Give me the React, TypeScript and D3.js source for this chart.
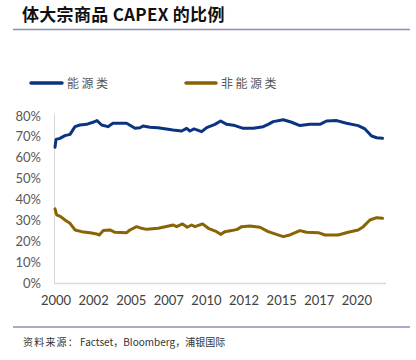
import React from "react";
import * as d3 from "d3";

const energyYears = [2000.0, 2000.07, 2000.33, 2000.66, 2001.0, 2001.33, 2001.66, 2002.1, 2002.52, 2002.79, 2003.1, 2003.52, 2003.85, 2004.76, 2005.32, 2005.65, 2005.85, 2006.31, 2006.84, 2007.84, 2008.42, 2008.75, 2008.97, 2009.24, 2009.75, 2010.08, 2010.63, 2011.01, 2011.41, 2011.96, 2012.51, 2013.18, 2013.84, 2014.17, 2014.5, 2015.17, 2015.73, 2016.28, 2016.94, 2017.61, 2018.05, 2018.72, 2019.38, 2020.15, 2020.6, 2021.04, 2021.38, 2021.77];
const energyValues = [65.0, 68.8, 69.3, 70.6, 71.2, 74.9, 75.7, 76.0, 77.0, 77.8, 75.7, 74.9, 76.5, 76.5, 74.1, 74.4, 75.2, 74.6, 74.4, 73.3, 72.8, 74.1, 72.8, 73.8, 72.5, 74.4, 76.0, 77.6, 76.0, 75.4, 74.1, 74.1, 74.9, 76.0, 77.3, 78.2, 77.0, 75.4, 76.0, 76.0, 77.6, 77.8, 76.5, 75.4, 73.8, 70.4, 69.6, 69.3];

const nonEnergyYears = [2000.0, 2000.11, 2000.38, 2000.73, 2001.0, 2001.33, 2001.77, 2002.33, 2002.77, 2002.94, 2003.21, 2003.65, 2003.99, 2004.76, 2004.98, 2005.43, 2005.76, 2006.09, 2006.86, 2007.86, 2008.08, 2008.48, 2008.79, 2009.08, 2009.3, 2009.81, 2010.19, 2010.74, 2011.01, 2011.3, 2011.74, 2012.11, 2012.41, 2012.96, 2013.62, 2014.17, 2014.62, 2015.17, 2015.61, 2016.28, 2016.72, 2017.5, 2017.94, 2018.82, 2019.49, 2020.15, 2020.49, 2020.93, 2021.38, 2021.77];
const nonEnergyValues = [35.5, 32.6, 31.8, 29.8, 28.6, 25.4, 24.6, 24.1, 23.5, 23.0, 25.1, 25.4, 24.3, 24.1, 25.4, 27.0, 26.2, 25.7, 26.2, 27.8, 27.0, 28.3, 26.7, 27.8, 27.0, 28.3, 26.2, 24.6, 23.3, 24.6, 25.1, 25.7, 27.0, 27.3, 26.7, 24.6, 23.5, 22.2, 23.0, 25.1, 24.3, 24.1, 23.0, 23.0, 24.3, 25.4, 27.0, 30.2, 31.3, 31.0];

const xTickYears = [2000, 2002.5, 2005, 2007.5, 2010, 2012.5, 2015, 2017.5, 2020];
const xTickLabels = ["2000", "2002", "2005", "2007", "2010", "2012", "2015", "2017", "2020"];
const yTicks = [0, 10, 20, 30, 40, 50, 60, 70, 80];

const seriesNames = ["能源类", "非能源类"];
const seriesColors = ["#0a3482", "#8a6404"];

const title = "体大宗商品 CAPEX 的比例";
const sourceLabel = "资料来源：";
const sourceText = "Factset，Bloomberg，浦银国际";

export default function App() {
  const W = 416, H = 360;
  const x = d3.scaleLinear().domain([2000, 2022]).range([55, 386]);
  const y = d3.scaleLinear().domain([0, 80]).range([283, 116]);
  const line = d3
    .line<[number, number]>()
    .x((d) => x(d[0]))
    .y((d) => y(d[1]))
    .curve(d3.curveLinear);
  const e = energyYears.map((t, i) => [t, energyValues[i]] as [number, number]);
  const n = nonEnergyYears.map((t, i) => [t, nonEnergyValues[i]] as [number, number]);
  const font = "Lato, 'Open Sans', sans-serif";
  const cjk = "'Noto Sans CJK SC', sans-serif";
  return (
    <svg width={W} height={H} style={{ position: "absolute", left: 0, top: 0, background: "#fff" }}>
      <text x={22} y={21} fontFamily={cjk} fontWeight="bold" fontSize={17} letterSpacing={0.3} fill="#111">{title}</text>
      <line x1={13} x2={410} y1={29.5} y2={29.5} stroke="#8c8cb8" strokeWidth={1.5} />

      {/* legend */}
      <line x1={31} x2={62} y1={83} y2={83} stroke={seriesColors[0]} strokeWidth={3.5} strokeLinecap="round" />
      <text x={67} y={87.5} fontFamily={cjk} fontSize={12} letterSpacing={2.5} fill="#595959">{seriesNames[0]}</text>
      <line x1={186} x2={216} y1={83} y2={83} stroke={seriesColors[1]} strokeWidth={3.5} strokeLinecap="round" />
      <text x={221} y={87.5} fontFamily={cjk} fontSize={12} letterSpacing={2.5} fill="#595959">{seriesNames[1]}</text>

      {/* axes */}
      <line x1={54.5} x2={54.5} y1={114} y2={283} stroke="#d9d9d9" strokeWidth={1} />
      <line x1={54} x2={386} y1={283.5} y2={283.5} stroke="#d9d9d9" strokeWidth={1.5} />
      {yTicks.map((t) => (
        <text key={t} x={41} y={y(t) + 4.5} textAnchor="end" fontFamily={font} fontSize={13} fill="#595959">{t}%</text>
      ))}
      {xTickYears.map((t, i) => (
        <text key={t} x={x(t) + 1} y={305} textAnchor="middle" fontFamily={font} fontSize={13} fill="#404040">{xTickLabels[i]}</text>
      ))}

      <path d={line(e) || ""} fill="none" stroke={seriesColors[0]} strokeWidth={3} strokeLinejoin="round" strokeLinecap="round" />
      <path d={line(n) || ""} fill="none" stroke={seriesColors[1]} strokeWidth={3} strokeLinejoin="round" strokeLinecap="round" />

      <line x1={13} x2={410} y1={327} y2={327} stroke="#8c8cb8" strokeWidth={1.5} />
      <text x={23} y={346} fontFamily={cjk} fontSize={10} letterSpacing={1.2} fill="#333">{sourceLabel}</text>
      <text x={80} y={346} fontFamily={cjk} fontSize={10} fill="#333">{sourceText}</text>
    </svg>
  );
}
